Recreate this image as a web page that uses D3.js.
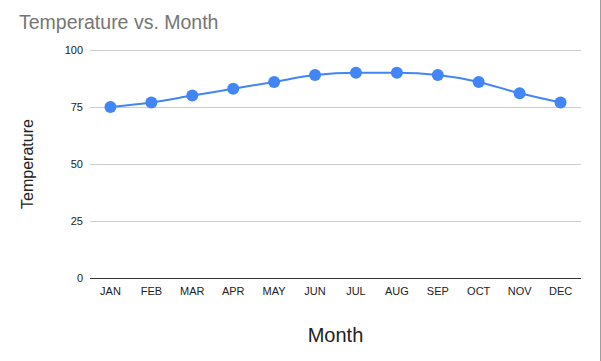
<!DOCTYPE html>
<html>
<head>
<meta charset="utf-8">
<script src="https://cdn.jsdelivr.net/npm/d3@7"></script>
<style>
  html, body { margin: 0; padding: 0; background: #fff; }
  svg { display: block; font-family: Arial, "Liberation Sans", sans-serif; }
</style>
</head>
<body>
<svg id="chart" width="601" height="361"></svg>
<script>
const months = ["JAN","FEB","MAR","APR","MAY","JUN","JUL","AUG","SEP","OCT","NOV","DEC"];
const temperatures = [75, 77, 80, 83, 86, 89, 90, 90, 89, 86, 81, 77];
const yTicks = [0, 25, 50, 75, 100];

(function () {
const svg = d3.select("#chart");
const W = 601, H = 361;
const mLeft = 90, mRight = 581, mTop = 50, mBottom = 278;

const x = d3.scaleBand().domain(months).range([mLeft, mRight]);
const y = d3.scaleLinear().domain([0, 100]).range([mBottom, mTop]);

// right border
svg.append("line").attr("x1", 600.5).attr("x2", 600.5).attr("y1", 0).attr("y2", H)
  .attr("stroke", "#9e9e9e").attr("stroke-width", 1);

// y axis labels
const yAxis = d3.axisLeft(y).tickValues(yTicks).tickSize(0).tickPadding(7);
const gy = svg.append("g").attr("transform", `translate(${mLeft},0)`).call(yAxis);
gy.select(".domain").remove();
gy.selectAll("text").attr("font-size", 11).attr("fill", "#222").attr("font-family", "Arial, 'Liberation Sans', sans-serif");

// gridlines
svg.append("g").selectAll("line").data(yTicks.filter(d => d !== 0)).join("line")
  .attr("x1", mLeft).attr("x2", mRight)
  .attr("y1", d => Math.round(y(d)) + 0.5).attr("y2", d => Math.round(y(d)) + 0.5)
  .attr("stroke", "#cccccc").attr("stroke-width", 1);

// x axis
const xAxis = d3.axisBottom(x).tickSize(0).tickPadding(9);
const gx = svg.append("g").attr("transform", `translate(0,${mBottom})`).call(xAxis);
gx.select(".domain").remove();
gx.selectAll("text").attr("font-size", 11).attr("fill", "#222").attr("font-family", "Arial, 'Liberation Sans', sans-serif");

svg.append("line").attr("x1", mLeft).attr("x2", mRight)
  .attr("y1", Math.round(y(0)) + 0.5).attr("y2", Math.round(y(0)) + 0.5)
  .attr("stroke", "#333333").attr("stroke-width", 1);

// line
const line = d3.line()
  .x((d, i) => x(months[i]) + x.bandwidth() / 2)
  .y(d => y(d))
  .curve(d3.curveMonotoneX);

svg.append("path").datum(temperatures)
  .attr("d", line)
  .attr("fill", "none")
  .attr("stroke", "#4285f4")
  .attr("stroke-width", 2);

svg.append("g").selectAll("circle").data(temperatures).join("circle")
  .attr("cx", (d, i) => x(months[i]) + x.bandwidth() / 2)
  .attr("cy", d => y(d))
  .attr("r", 6)
  .attr("fill", "#4285f4");

// title
svg.append("text").attr("x", 19).attr("y", 29)
  .attr("font-size", 19.5).attr("fill", "#757575")
  .text("Temperature vs. Month");

// axis titles
svg.append("text").attr("x", (mLeft + mRight) / 2).attr("y", 342)
  .attr("text-anchor", "middle").attr("font-size", 20).attr("fill", "#222")
  .text("Month");

svg.append("text")
  .attr("transform", `translate(33,${(mTop + mBottom) / 2}) rotate(-90)`)
  .attr("text-anchor", "middle").attr("font-size", 16).attr("fill", "#222")
  .text("Temperature");
})();
</script>
</body>
</html>
